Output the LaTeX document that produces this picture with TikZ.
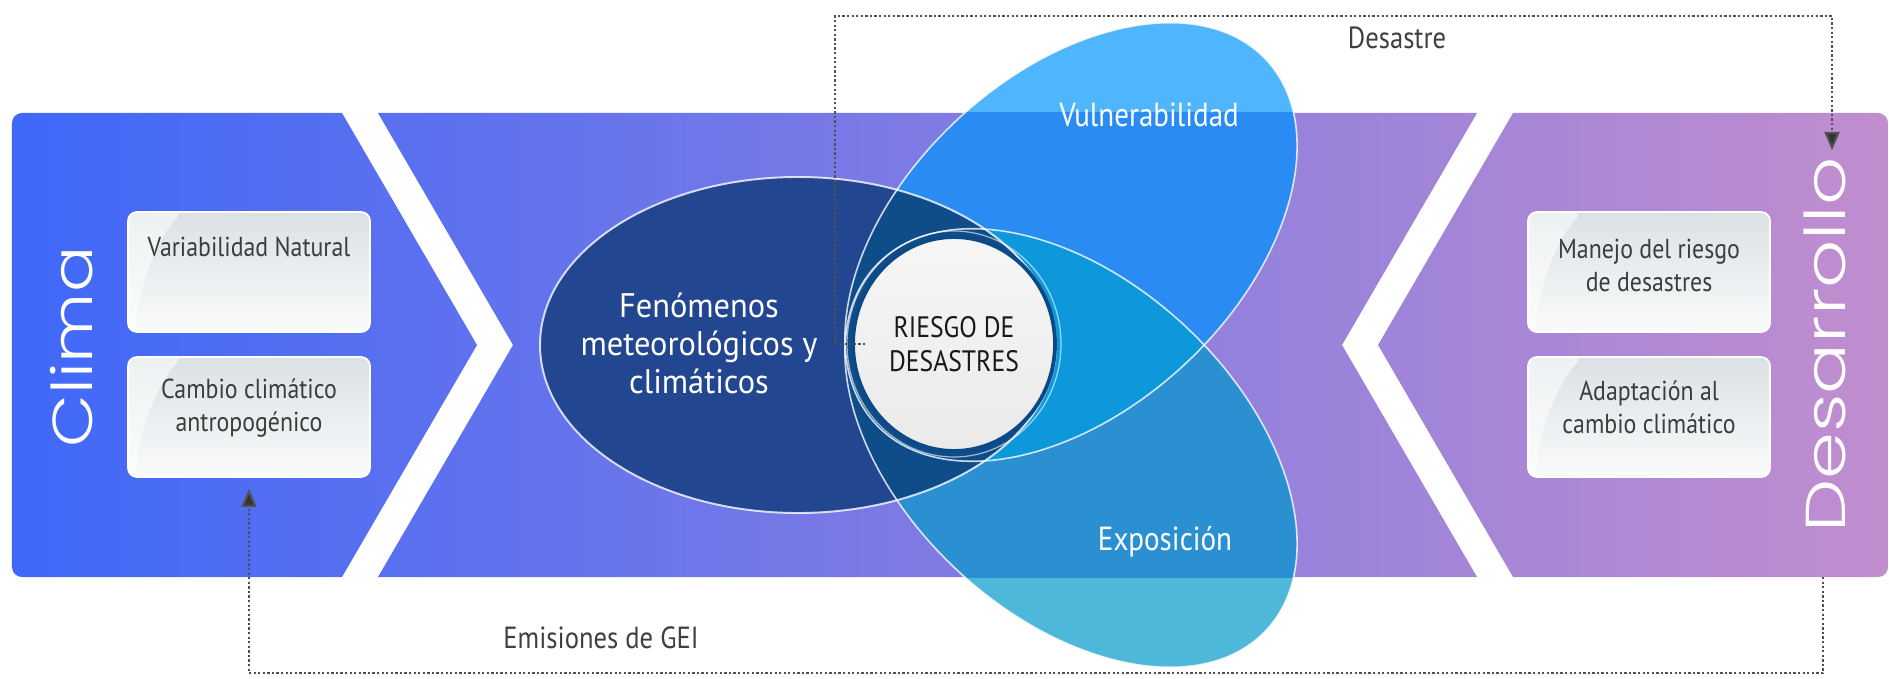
\documentclass[tikz,border=0pt]{standalone}
\usepackage{fontspec}
\usetikzlibrary{arrows.meta,shapes.geometric}
\setmainfont{PT Sans}
\newfontfamily\condfont{PT Sans}[FakeStretch=0.87]
\newfontfamily\semicondfont{PT Sans}[FakeStretch=0.95]
\IfFontExistsTF{Poppins Light}{%
  \newfontfamily\thinfont{Poppins Light}[FakeStretch=1.22]%
  \newfontfamily\thinwidefont{Poppins Light}[FakeStretch=1.34]}{%
  \newfontfamily\thinfont{Poppins}[FakeStretch=1.22]%
  \newfontfamily\thinwidefont{Poppins}[FakeStretch=1.34]}
\definecolor{bandL}{RGB}{62,104,249}
\definecolor{bandR}{RGB}{193,142,206}
\definecolor{fen}{RGB}{34,70,143}
\definecolor{fenov}{RGB}{14,76,138}
\definecolor{vulin}{RGB}{42,140,242}
\definecolor{vulout}{RGB}{79,181,253}
\definecolor{expin}{RGB}{43,144,210}
\definecolor{expout}{RGB}{77,184,218}
\definecolor{vecol}{RGB}{12,152,218}
\definecolor{ringcol}{RGB}{11,74,134}
\definecolor{boxtop}{RGB}{218,225,229}
\definecolor{boxbot}{RGB}{250,251,251}
\definecolor{boxtext}{RGB}{60,60,60}
\definecolor{conncol}{RGB}{80,80,80}
\definecolor{risktop}{RGB}{246,246,246}
\definecolor{riskbot}{RGB}{234,234,234}
\begin{document}
\begin{tikzpicture}[
  vulrot/.style={rotate around={43:(10.71,4.36)}},
  exprot/.style={rotate around={-43:(10.71,2.30)}},
  infobox/.style={rounded corners=0.09cm, minimum width=2.42cm, minimum height=1.2cm, inner sep=0pt,
    top color=boxtop, bottom color=boxbot, draw=white, line width=0.5pt,
    path picture={\fill[white, fill opacity=0.55]
      (path picture bounding box.north west) -- ++(0.55,0)
      .. controls +(-0.25,-0.25) and +(0.02,0.45) .. ([xshift=0.08cm]path picture bounding box.south west)
      -- (path picture bounding box.south west) -- cycle;}},
  boxtxt/.style={font=\condfont\fontsize{7.8}{9.4}\selectfont, text=boxtext, align=center, inner sep=0pt},
  whitetxt/.style={font=\condfont\fontsize{9.5}{10.8}\selectfont, text=white, align=center, inner sep=0pt},
  bigtxt/.style={text=white, inner sep=0pt, rotate=90},
  grytxt/.style={font=\condfont\fontsize{8.7}{10}\selectfont, text=black!75, inner sep=0pt},
  conn/.style={draw=conncol, line width=0.6pt, dash pattern=on 0.65pt off 0.65pt,
    -{Triangle[width=0.15cm,length=0.18cm,fill=black!80]}},
  outl/.style={draw=white, line width=0.45pt, draw opacity=0.8}
]
\useasboundingbox (0,0) rectangle (18.89,6.78);
\fill[white] (0,0) rectangle (18.89,6.78);

% band panels with a common horizontal gradient
\begin{scope}
\clip (0.22,5.65) -- (3.42,5.65) -- (4.77,3.33) -- (3.42,1.01) -- (0.22,1.01)
        arc[start angle=270, end angle=180, radius=0.1] -- (0.12,5.55)
        arc[start angle=180, end angle=90, radius=0.1] -- cycle
      (3.78,5.65) -- (14.77,5.65) -- (13.42,3.33) -- (14.77,1.01) -- (3.78,1.01) -- (5.13,3.33) -- cycle
      (15.13,5.65) -- (18.78,5.65) arc[start angle=90, end angle=0, radius=0.1] -- (18.88,1.11)
        arc[start angle=0, end angle=-90, radius=0.1] -- (15.13,1.01) -- (13.78,3.33) -- cycle;
\shade[left color=bandL, right color=bandR] (0,0.9) rectangle (18.89,5.8);
\end{scope}

% Vulnerabilidad ellipse
\begin{scope}
\clip (0,5.65) rectangle (18.89,6.78);
\fill[vulout, vulrot] (10.71,4.36) ellipse [x radius=2.67, y radius=1.67];
\end{scope}
\begin{scope}
\clip (0,0) rectangle (18.89,5.65);
\fill[vulin, vulrot] (10.71,4.36) ellipse [x radius=2.67, y radius=1.67];
\end{scope}
% Exposicion ellipse
\begin{scope}
\clip (0,0) rectangle (18.89,1.01);
\fill[expout, exprot] (10.71,2.30) ellipse [x radius=2.67, y radius=1.67];
\end{scope}
\begin{scope}
\clip (0,1.01) rectangle (18.89,6.78);
\fill[expin, exprot] (10.71,2.30) ellipse [x radius=2.67, y radius=1.67];
\end{scope}
% overlap V and E
\begin{scope}
\clip[vulrot] (10.71,4.36) ellipse [x radius=2.67, y radius=1.67];
\fill[vecol, exprot] (10.71,2.30) ellipse [x radius=2.67, y radius=1.67];
\end{scope}
% Fenomenos ellipse
\fill[fen] (7.98,3.33) ellipse [x radius=2.58, y radius=1.68];
\begin{scope}
\clip (7.98,3.33) ellipse [x radius=2.58, y radius=1.68];
\fill[fenov, vulrot] (10.71,4.36) ellipse [x radius=2.67, y radius=1.67];
\fill[fenov, exprot] (10.71,2.30) ellipse [x radius=2.67, y radius=1.67];
\end{scope}
% outlines
\path[outl, vulrot] (10.71,4.36) ellipse [x radius=2.67, y radius=1.67];
\path[outl, exprot] (10.71,2.30) ellipse [x radius=2.67, y radius=1.67];
\path[outl, line width=0.55pt] (7.98,3.33) ellipse [x radius=2.58, y radius=1.68];

% central circle
\node[ellipse, draw=ringcol, line width=1.1pt, top color=risktop, bottom color=riskbot,
  minimum width=2.02cm, minimum height=2.14cm, inner sep=0pt,
  font=\condfont\fontsize{8.4}{9.7}\selectfont, text=black!90, align=center] (risk) at (9.54,3.34) {RIESGO DE\\DESASTRES};
\draw[white, line width=0.35pt, opacity=0.6] (risk.center) ellipse [x radius=1.07, y radius=1.13];

% ellipse labels
\node[whitetxt, font=\semicondfont\fontsize{9.7}{10.8}\selectfont] (fenl) at (6.99,3.35) {Fenómenos\\meteorológicos y\\climáticos};
\node[whitetxt] (vull) at (11.49,5.63) {Vulnerabilidad};
\node[whitetxt] (expl) at (11.65,1.36) {Exposición};

% side titles
\node[bigtxt, font=\thinfont\fontsize{16}{16}\selectfont] (clima) at (0.72,3.31) {Clima};
\node[bigtxt, font=\thinwidefont\fontsize{16}{16}\selectfont] (dev) at (18.25,3.33) {Desarrollo};

% boxes
\node[infobox] (vn) at (2.49,4.06) {};
\node[infobox] (cc) at (2.49,2.61) {};
\node[infobox] (mr) at (16.49,4.06) {};
\node[infobox] (ad) at (16.49,2.61) {};
\node[boxtxt] (vnt) at ([yshift=-0.36cm]vn.north) {Variabilidad Natural};
\node[boxtxt] (cct) at ([yshift=-0.515cm]cc.north) {Cambio climático\\antropogénico};
\node[boxtxt] (mrt) at ([yshift=-0.54cm]mr.north) {Manejo del riesgo\\de desastres};
\node[boxtxt] (adt) at ([yshift=-0.515cm]ad.north) {Adaptación al\\cambio climático};

% connectors
\coordinate (cTL) at (8.35,6.62);
\coordinate (tipD) at (18.32,5.28);
\coordinate (devB) at (18.23,1.01);
\coordinate (cBL) at (2.49,0.05);
\draw[conn] ([xshift=0.14cm]risk.west) -| (cTL) -| (tipD);
\draw[conn] (devB) |- (cBL) -- ([yshift=-0.11cm]cc.south);
\node[grytxt] (desl) at (13.97,6.40) {Desastre};
\node[grytxt] (geil) at (6.01,0.40) {Emisiones de GEI};
\end{tikzpicture}
\end{document}
